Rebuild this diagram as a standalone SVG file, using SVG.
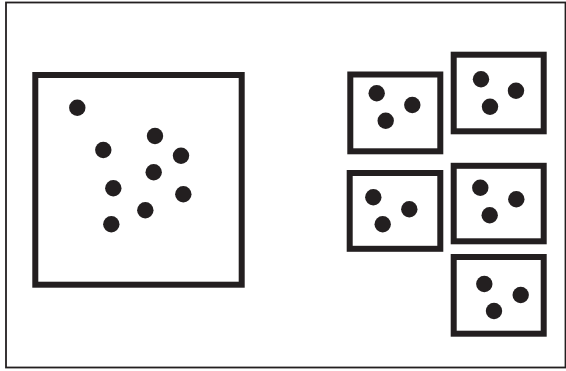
<svg xmlns="http://www.w3.org/2000/svg" width="566" height="371" viewBox="0 0 566 371">
<style>
.frame{fill:none;stroke:#231f20;stroke-width:1.8}
.box{fill:#fff;stroke:#231f20;stroke-width:6;stroke-linejoin:miter}
.dot{fill:#231f20}
</style>
<rect x="0" y="0" width="566" height="371" fill="#fff"/>
<rect class="frame" x="6" y="2.5" width="559.5" height="365"/>
<g id="big">
<rect class="box" x="35.3" y="75" width="206.4" height="209.7" stroke-width="6.3"/>
<circle class="dot" cx="77.3" cy="107.7" r="8.2"/>
<circle class="dot" cx="103.3" cy="150" r="8.2"/>
<circle class="dot" cx="155" cy="136" r="8.2"/>
<circle class="dot" cx="181" cy="155.7" r="8.2"/>
<circle class="dot" cx="153.7" cy="172.3" r="8.2"/>
<circle class="dot" cx="113.3" cy="188.3" r="8.2"/>
<circle class="dot" cx="183.3" cy="194.3" r="8.2"/>
<circle class="dot" cx="145.3" cy="210.3" r="8.2"/>
<circle class="dot" cx="111.3" cy="224.3" r="8.2"/>
</g>
<g id="boxA">
<rect class="box" x="350.3" y="74.5" width="90" height="76.8"/>
<circle class="dot" cx="376.7" cy="93.3" r="8.2"/>
<circle class="dot" cx="412.3" cy="105" r="8.2"/>
<circle class="dot" cx="385.7" cy="120.7" r="8.2"/>
</g>
<g id="boxB">
<rect class="box" x="453.7" y="54.7" width="90" height="76.6"/>
<circle class="dot" cx="481" cy="79.3" r="8.2"/>
<circle class="dot" cx="516" cy="90.7" r="8.2"/>
<circle class="dot" cx="490" cy="106.7" r="8.2"/>
</g>
<g id="boxC">
<rect class="box" x="349.7" y="173" width="90.6" height="75.8"/>
<circle class="dot" cx="373.3" cy="197.3" r="8.2"/>
<circle class="dot" cx="409.3" cy="209.3" r="8.2"/>
<circle class="dot" cx="382.7" cy="224.3" r="8.2"/>
</g>
<g id="boxD">
<rect class="box" x="453.7" y="165.8" width="90" height="75.5"/>
<circle class="dot" cx="480.3" cy="187.7" r="8.2"/>
<circle class="dot" cx="516.3" cy="199.3" r="8.2"/>
<circle class="dot" cx="489.7" cy="215.3" r="8.2"/>
</g>
<g id="boxE">
<rect class="box" x="453.7" y="257" width="90" height="76.7"/>
<circle class="dot" cx="484.3" cy="284" r="8.2"/>
<circle class="dot" cx="520.7" cy="295" r="8.2"/>
<circle class="dot" cx="494" cy="311" r="8.2"/>
</g>
<g id="connectors"></g>
</svg>
